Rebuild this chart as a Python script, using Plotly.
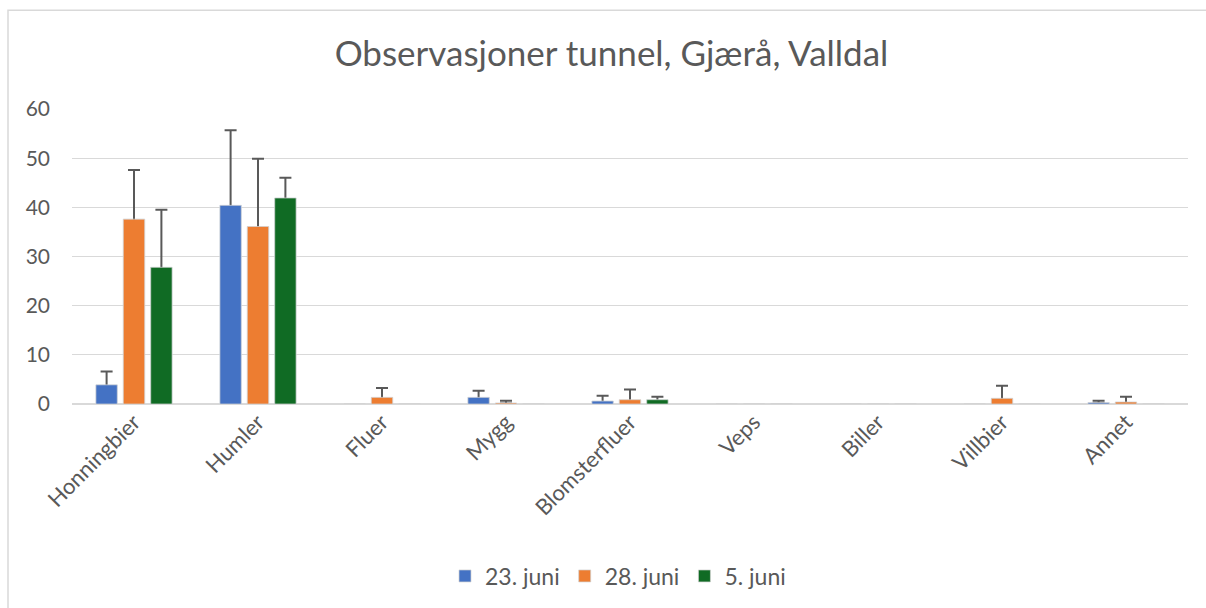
import plotly.graph_objects as go

categories = ["Honningbier", "Humler", "Fluer", "Mygg", "Blomsterfluer", "Veps", "Biller", "Villbier", "Annet"]
series_names = ["23. juni", "28. juni", "5. juni"]
vals_23 = [3.9, 40.4, 0, 1.35, 0.6, 0, 0, 0, 0.27]
vals_28 = [37.6, 36.1, 1.35, 0.2, 0.87, 0, 0, 1.15, 0.4]
vals_5 = [27.8, 41.9, 0, 0, 0.87, 0, 0, 0, 0]
err_23 = [2.7, 15.3, 0, 1.35, 1.1, 0, 0, 0, 0.4]
err_28 = [10.0, 13.8, 1.9, 0.45, 2.1, 0, 0, 2.55, 1.1]
err_5 = [11.7, 4.1, 0, 0, 0.6, 0, 0, 0, 0]
colors = ["#4472C4", "#ED7D31", "#106B24"]

FONT = "Lato"
TXT = "#595959"

fig = go.Figure()
# error bars (plus direction only) on the lower y axis; the visible bars on the
# overlaying axis hide the stem/base that lies inside each bar
for name, v, e in zip(series_names, [vals_23, vals_28, vals_5], [err_23, err_28, err_5]):
    ye = [vi if ei > 0 else None for vi, ei in zip(v, e)]
    fig.add_trace(go.Bar(
        name=name, x=categories, y=ye, showlegend=False, hoverinfo="skip",
        marker=dict(color="rgba(0,0,0,0)"), yaxis="y",
        error_y=dict(type="data", symmetric=False, array=e, arrayminus=[vi * 0.5 for vi in v],
                     visible=True, color="#595959", thickness=2, width=6),
    ))
for name, v, c in zip(series_names, [vals_23, vals_28, vals_5], colors):
    fig.add_trace(go.Bar(
        name=name, x=categories, y=v, yaxis="y2",
        marker=dict(color=c, line=dict(color="rgba(210,210,210,0.9)", width=0.8)),
    ))

W, H = 1206, 608
L, R, T, B = 72, 18, 109, 203
pw, ph = W - L - R, H - T - B

fig.update_layout(
    width=W, height=H,
    margin=dict(l=L, r=R, t=T, b=B),
    paper_bgcolor="white", plot_bgcolor="white",
    barmode="group", bargap=0.337, bargroupgap=0.22,
    title=dict(text="Observasjoner tunnel, Gjærå, Valldal", x=611.5 / W, xref="container", xanchor="center",
               y=1 - 54 / H, yanchor="middle",
               font=dict(family=FONT, size=35, color=TXT)),
    font=dict(family=FONT, color=TXT),
    legend=dict(orientation="h", x=(618 - L) / pw, xanchor="center", y=(405 - 576) / ph, yanchor="middle",
                font=dict(family=FONT, size=23, color=TXT), itemwidth=30, traceorder="normal"),
    showlegend=True,
    xaxis=dict(tickangle=-45, tickfont=dict(family=FONT, size=22, color=TXT),
               showline=False, ticks=""),
    yaxis=dict(range=[0, 60], dtick=10, showgrid=True, gridcolor="#D9D9D9", gridwidth=1,
               zeroline=True, zerolinecolor="#D9D9D9", zerolinewidth=1.5,
               tickfont=dict(family=FONT, size=21, color=TXT), ticks="", ticklabelstandoff=21),
    yaxis2=dict(range=[0, 60], overlaying="y", side="left", showgrid=False, zeroline=False,
                showticklabels=False, ticks="", showline=False),
    shapes=[dict(type="rect", xref="paper", yref="paper",
                 x0=(8 - L) / pw, x1=(1215 - L) / pw,
                 y0=(405 - 620) / ph, y1=(405 - 10) / ph,
                 line=dict(color="#D9D9D9", width=1.5), fillcolor="rgba(0,0,0,0)", layer="below")],
)

fig.write_html("out.html", config={"displayModeBar": False},
               post_script="document.body.style.margin='0';document.body.style.overflow='hidden';")
